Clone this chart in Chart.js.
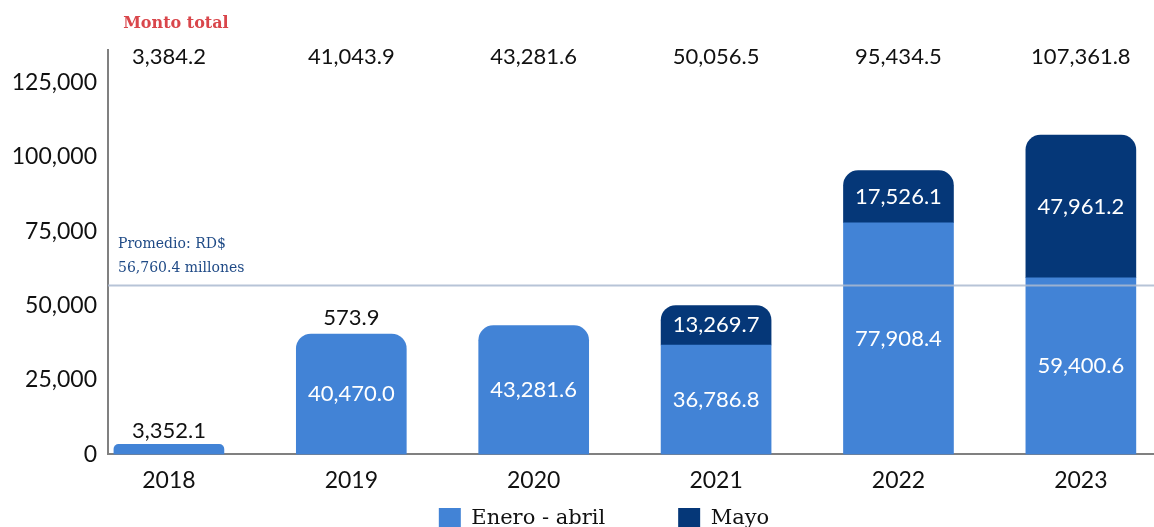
<!DOCTYPE html>
<html>
<head>
<meta charset="utf-8">
<script src="https://cdn.jsdelivr.net/npm/chart.js@4"></script>
<style>
  html, body { margin: 0; padding: 0; background: #fff; overflow: hidden; }
  #wrap { width: 1154px; height: 540px; }
</style>
</head>
<body>
<div id="wrap"><canvas id="chart"></canvas></div>
<script>
const years = [2018, 2019, 2020, 2021, 2022, 2023];
const eneroAbril = [3352.1, 40470.0, 43281.6, 36786.8, 77908.4, 59400.6];
const mayo = [32.1, 573.9, 0, 13269.7, 17526.1, 47961.2];
const totals = [3384.2, 41043.9, 43281.6, 50056.5, 95434.5, 107361.8];
const yTicks = [0, 25000, 50000, 75000, 100000, 125000];
const promedio = 56760.4;

const lightBlue = '#4283d6';
const darkBlue = '#053778';
const numFont = 'Lato, "DejaVu Sans", sans-serif';
const slabFont = '"DejaVu Serif", serif';

function fmt(v) {
  return v.toLocaleString('en-US', { minimumFractionDigits: 1, maximumFractionDigits: 1 });
}

// etiquetas, totales y línea de promedio
const extras = {
  id: 'extras',
  afterLayout(chart) {
    // la leyenda del original está algo corrida a la derecha
    chart.legend.left += 27;
    chart.legend.right += 27;
  },
  afterDatasetsDraw(chart) {
    const ctx = chart.ctx;
    const area = chart.chartArea;
    const x = chart.scales.x;
    const y = chart.scales.y;
    ctx.save();
    ctx.textAlign = 'center';
    ctx.textBaseline = 'middle';
    ctx.font = '22px ' + numFont;

    // valores dentro / encima de las barras
    chart.data.datasets.forEach((ds, di) => {
      const meta = chart.getDatasetMeta(di);
      meta.data.forEach((bar, i) => {
        const v = ds.data[i].y;
        if (!v || v < 100) return;
        const top = bar.y, bottom = bar.base;
        if (bottom - top < 30) {
          ctx.fillStyle = '#111';
          ctx.fillText(fmt(v), bar.x, top - 14);
        } else {
          ctx.fillStyle = '#fff';
          ctx.fillText(fmt(v), bar.x, (top + bottom) / 2);
        }
      });
    });

    // línea de promedio
    const py = y.getPixelForValue(promedio);
    ctx.strokeStyle = 'rgba(170,186,208,0.85)';
    ctx.lineWidth = 2;
    ctx.beginPath();
    ctx.moveTo(area.left, py);
    ctx.lineTo(chart.width, py);
    ctx.stroke();
    ctx.textAlign = 'left';
    ctx.fillStyle = '#1f4a86';
    ctx.font = '14px ' + slabFont;
    ctx.fillText('Promedio: RD$', area.left + 10, py - 41);
    ctx.fillText(fmt(promedio) + ' millones', area.left + 10, py - 17);

    // monto total
    ctx.textAlign = 'center';
    ctx.fillStyle = '#111';
    ctx.font = '22px ' + numFont;
    years.forEach((yr, i) => {
      ctx.fillText(fmt(totals[i]), x.getPixelForValue(yr), 57);
    });
    ctx.fillStyle = '#d9464b';
    ctx.font = 'bold 16px ' + slabFont;
    ctx.fillText('Monto total', x.getPixelForValue(years[0]) + 7, 24);
    ctx.restore();
  }
};

new Chart(document.getElementById('chart'), {
  type: 'bar',
  data: {
    datasets: [
      {
        label: 'Enero - abril',
        data: years.map((yr, i) => ({ x: yr, y: eneroAbril[i] })),
        backgroundColor: lightBlue,
        barThickness: 110,
        borderSkipped: false,
        borderRadius: c => mayo[c.dataIndex] < 1000
          ? { topLeft: 15, topRight: 15, bottomLeft: 0, bottomRight: 0 } : 0
      },
      {
        label: 'Mayo',
        data: years.map((yr, i) => ({ x: yr, y: mayo[i] })),
        // los tramos de mayo demasiado finos no se ven en el original
        backgroundColor: c => mayo[c.dataIndex] < 1000 ? 'rgba(0,0,0,0)' : darkBlue,
        barThickness: 110,
        borderSkipped: false,
        borderRadius: { topLeft: 15, topRight: 15, bottomLeft: 0, bottomRight: 0 }
      }
    ]
  },
  options: {
    responsive: true,
    maintainAspectRatio: false,
    animation: false,
    layout: { padding: { top: 50, right: 0, left: 0, bottom: 0 } },
    plugins: {
      tooltip: { enabled: false },
      legend: {
        position: 'bottom',
        labels: {
          boxWidth: 22,
          boxHeight: 22,
          padding: 10,
          color: '#111',
          font: { family: slabFont, size: 21 },
          generateLabels: chart => chart.data.datasets.map((ds, i) => ({
            text: i === 0 ? ds.label + '\u2003\u2003\u2003' : ds.label,
            fillStyle: i === 0 ? lightBlue : darkBlue,
            strokeStyle: 'transparent',
            lineWidth: 0,
            fontColor: '#111',
            datasetIndex: i
          }))
        }
      }
    },
    scales: {
      x: {
        type: 'linear',
        stacked: true,
        offset: false,
        min: 2017.666,
        max: 2023.401,
        afterBuildTicks: s => { s.ticks = years.map(v => ({ value: v })); },
        grid: { display: false },
        border: { color: '#808080', width: 2 },
        ticks: {
          color: '#111',
          padding: 4,
          font: { family: numFont, size: 23 },
          callback: v => String(v)
        }
      },
      y: {
        stacked: true,
        min: 0,
        max: 136000,
        afterBuildTicks: s => { s.ticks = yTicks.map(v => ({ value: v })); },
        afterFit: s => { s.width = 108; },
        grid: { display: false },
        border: { color: '#808080', width: 2 },
        ticks: {
          color: '#111',
          padding: 3,
          font: { family: numFont, size: 23 },
          callback: v => v.toLocaleString('en-US')
        }
      }
    }
  },
  plugins: [extras]
});
</script>
</body>
</html>
